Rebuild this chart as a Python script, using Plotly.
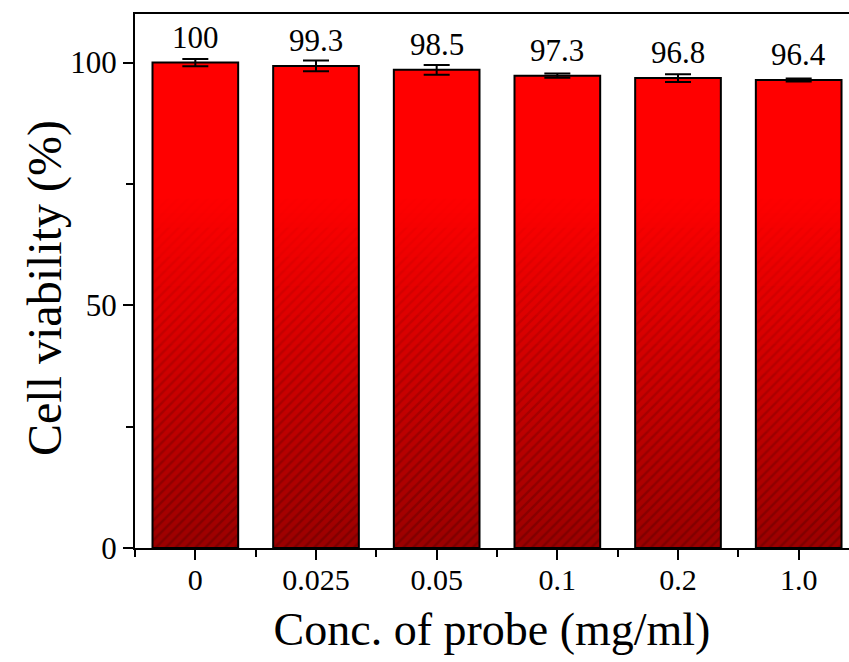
import plotly.graph_objects as go

categories = ["0", "0.025", "0.05", "0.1", "0.2", "1.0"]
viability = [100, 99.3, 98.5, 97.3, 96.8, 96.4]
errors = [0.75, 1.1, 1.0, 0.45, 0.8, 0.3]
y_ticks = [0, 50, 100]

FONT = "Liberation Serif"
xpos = list(range(len(categories)))
BAR_W = 0.71

fig = go.Figure()

# gradient fill: bright red on top, dark red towards the bottom
GRAD_TOP = 72
TOP_RGB = (255, 0, 0)
BOT_RGB = (155, 0, 0)


def grad_color(u):
    t = min(max(u / GRAD_TOP, 0.0), 1.0)
    return tuple(int(round(BOT_RGB[i] + (TOP_RGB[i] - BOT_RGB[i]) * t)) for i in range(3))


# each layer starts at `lo` and reaches the bar top; higher layers cover lower ones
for lo in range(0, GRAD_TOP + 1):
    r, g, b = grad_color(lo + 0.5)
    heights = [max(0.0, v - lo) for v in viability]
    fig.add_trace(go.Bar(
        x=xpos, y=heights, base=[lo] * len(xpos), width=BAR_W,
        marker=dict(color=f"rgb({r},{g},{b})", line=dict(width=0)),
        hoverinfo="skip", showlegend=False,
    ))

# diagonal hatch, fading out towards the top
HATCH_STEP = 6
for lo in range(0, GRAD_TOP, HATCH_STEP):
    hi = lo + HATCH_STEP
    alpha = 0.45 * (1 - (lo + HATCH_STEP / 2) / GRAD_TOP)
    heights = [max(0.0, min(v, hi) - lo) for v in viability]
    fig.add_trace(go.Bar(
        x=xpos, y=heights, base=[lo] * len(xpos), width=BAR_W,
        marker=dict(
            color="rgba(0,0,0,0)", line=dict(width=0),
            pattern=dict(shape="/", size=7, solidity=0.35,
                         fgcolor="rgb(90,0,0)", fgopacity=alpha,
                         bgcolor="rgba(0,0,0,0)"),
        ),
        hoverinfo="skip", showlegend=False,
    ))

# outline + error bars
fig.add_trace(go.Bar(
    x=xpos, y=viability, width=BAR_W,
    marker=dict(color="rgba(0,0,0,0)", line=dict(color="black", width=2)),
    error_y=dict(type="data", array=errors, visible=True,
                 color="black", thickness=2, width=13),
    showlegend=False,
))

for i, v in enumerate(viability):
    fig.add_annotation(x=xpos[i], y=v, text=f"{v:g}",
                       showarrow=False, yanchor="bottom", yshift=6,
                       font=dict(family=FONT, size=31, color="black"))

# y-axis title
fig.add_annotation(xref="paper", yref="paper", x=-0.126, y=0.487,
                   text="Cell viability (%)", textangle=-90, showarrow=False,
                   xanchor="center", yanchor="middle",
                   font=dict(family=FONT, size=48, color="black"))

fig.update_layout(
    width=849, height=662,
    margin=dict(l=135, r=0, t=14, b=114),
    paper_bgcolor="white", plot_bgcolor="white",
    barmode="overlay",
    font=dict(family=FONT, color="black"),
    xaxis=dict(
        range=[-0.5, 5.417], tickmode="array", tickvals=xpos, ticktext=categories,
        ticks="outside", ticklen=10, tickwidth=2, tickcolor="black",
        ticklabelstandoff=-6,
        minor=dict(ticks="outside", ticklen=7, tickwidth=2, tickcolor="black",
                   tick0=0.5, dtick=1),
        showline=True, linewidth=2, linecolor="black", mirror=True,
        showgrid=False, zeroline=False,
        tickfont=dict(family=FONT, size=30, color="black"),
        title=dict(text="Conc. of probe (mg/ml)", standoff=18,
                   font=dict(family=FONT, size=46, color="black")),
    ),
    yaxis=dict(
        range=[0, 110], tickmode="array", tickvals=y_ticks,
        ticks="outside", ticklen=10, tickwidth=2, tickcolor="black",
        minor=dict(ticks="outside", ticklen=7, tickwidth=2, tickcolor="black",
                   tick0=0, dtick=25),
        showline=True, linewidth=2, linecolor="black",
        showgrid=False, zeroline=False,
        tickfont=dict(family=FONT, size=31, color="black"),
    ),
)

fig.write_html("out.html")
